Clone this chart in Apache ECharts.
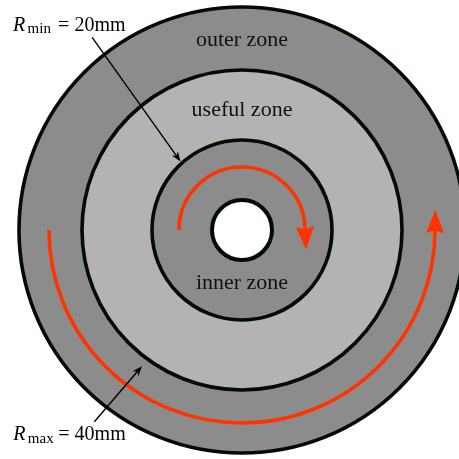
<!DOCTYPE html>
<html>
<head>
<meta charset="utf-8">
<script src="https://cdn.jsdelivr.net/npm/echarts@6/dist/echarts.min.js"></script>
<style>html,body{margin:0;padding:0;background:#fff}#c{width:459px;height:459px}</style>
</head>
<body>
<div id="c"></div>
<script>
// ---- data ----
const zoneNames = ['outer zone', 'useful zone', 'inner zone', ''];
const zoneRadii = [223, 160, 90, 30];            // boundary radius of each zone (outer edge)
const spinRadii = [63, 193];                     // rotation arrows
const spinStartDeg = [180, 180];
const spinEndDeg = [3, 359.1];
const annotSymbols = ['min', 'max'];
const annotValues = [20, 40];
const annotUnit = 'mm';
const annotAngleFrom = [127.9, 232.4];
const annotRadiusFrom = [244, 242];
const annotAngleTo = [131.9, 233.7];
const annotRadiusTo = [92, 169];

// ---- styles / layout ----
const zoneFills = ['#8c8c8c', '#b3b3b3', '#8c8c8c', '#ffffff'];
const borderColor = '#000d00';
const red = '#ff3300';
const labelY = [189.5, 119.5, -53.5];
const serif = '"Liberation Serif", "Times New Roman", serif';

const chart = echarts.init(document.getElementById('c'), null, {renderer: 'canvas'});
const rad = d => d * Math.PI / 180;

function polar(api, r, deg) {
  return api.coord([r * Math.cos(rad(deg)), r * Math.sin(rad(deg))]);
}

function head(tip, dir, L, W, notch, fill) {
  const nx = -dir[1], ny = dir[0];
  const bx = tip[0] - L * dir[0], by = tip[1] - L * dir[1];
  return {
    type: 'polygon',
    shape: {points: [
      tip,
      [bx + nx * W / 2, by + ny * W / 2],
      [bx + notch * dir[0], by + notch * dir[1]],
      [bx - nx * W / 2, by - ny * W / 2]
    ]},
    style: {fill: fill, stroke: null}
  };
}

const option = {
  animation: false,
  backgroundColor: '#ffffff',
  grid: {left: 0, right: 0, top: 0, bottom: 0},
  xAxis: {type: 'value', min: -242, max: 217, show: false},
  yAxis: {type: 'value', min: -229, max: 230, show: false},
  series: [
    {
      type: 'custom', clip: false, z: 1,
      data: zoneRadii.map((r, i) => [r, i]),
      renderItem: function (params, api) {
        const i = params.dataIndex;
        const c = api.coord([0, 0]);
        const rp = api.size([api.value(0), 0])[0];
        return {
          type: 'circle',
          shape: {cx: c[0], cy: c[1], r: rp},
          style: {fill: zoneFills[i], stroke: borderColor, lineWidth: i === 3 ? 4 : 3.6}
        };
      }
    },
    {
      type: 'custom', clip: false, z: 2,
      data: zoneNames.map((n, i) => [0, i]),
      renderItem: function (params, api) {
        const i = params.dataIndex;
        if (!zoneNames[i]) return null;
        const p = api.coord([0, labelY[i]]);
        return {
          type: 'text', x: p[0], y: p[1],
          style: {text: zoneNames[i], fill: '#111', fontSize: 22, fontFamily: serif,
                  align: 'center', verticalAlign: 'middle'}
        };
      }
    },
    {
      type: 'custom', clip: false, z: 3,
      data: spinRadii.map((r, i) => [r, spinStartDeg[i], spinEndDeg[i]]),
      renderItem: function (params, api) {
        const r = api.value(0), a0 = api.value(1), a1 = api.value(2);
        const c = api.coord([0, 0]);
        const rp = api.size([r, 0])[0];
        const s = Math.sign(a1 - a0);
        const ext = (3 / rp) * 180 / Math.PI;
        const a1e = a1 + s * ext;
        const e = polar(api, r, a1);
        const d = [-s * Math.sin(rad(a1)), -s * Math.cos(rad(a1))];
        const L = 23, W = 18;
        const tip = [e[0] + L * d[0], e[1] + L * d[1]];
        return {
          type: 'group',
          children: [
            {
              type: 'arc',
              shape: {cx: c[0], cy: c[1], r: rp, startAngle: -rad(a0), endAngle: -rad(a1e), clockwise: s < 0},
              style: {fill: null, stroke: red, lineWidth: 3.6}
            },
            head(tip, d, L, W, 2.5, red)
          ]
        };
      }
    },
    {
      type: 'custom', clip: false, z: 4,
      data: annotValues.map((v, i) => [v, i]),
      renderItem: function (params, api) {
        const i = params.dataIndex;
        const p0 = polar(api, annotRadiusFrom[i], annotAngleFrom[i]);
        const p1 = polar(api, annotRadiusTo[i], annotAngleTo[i]);
        const dx = p1[0] - p0[0], dy = p1[1] - p0[1];
        const len = Math.hypot(dx, dy);
        const d = [dx / len, dy / len];
        const L = 10;
        const lineEnd = [p1[0] - (L - 3) * d[0], p1[1] - (L - 3) * d[1]];
        const top = i === 0;
        const tx = p0[0] + (top ? -79 : -81);
        const base = p0[1] + (top ? -5 : 20);
        const mid = base - 0.3375 * 20;
        return {
          type: 'group',
          children: [
            {type: 'line', shape: {x1: p0[0], y1: p0[1], x2: lineEnd[0], y2: lineEnd[1]},
             style: {stroke: '#000', lineWidth: 1.4}},
            head(p1, d, L, 7.5, 3, '#000'),
            {type: 'text', x: tx, y: mid,
             style: {text: 'R', fill: '#000', fontSize: 20, fontStyle: 'italic', fontFamily: serif,
                     align: 'left', verticalAlign: 'middle'}},
            {type: 'text', x: tx + 14.5, y: base + 2 - 0.3375 * 15,
             style: {text: annotSymbols[i], fill: '#000', fontSize: 15, fontFamily: serif,
                     align: 'left', verticalAlign: 'middle'}},
            {type: 'text', x: tx + 45, y: mid,
             style: {text: '= ' + api.value(0) + annotUnit, fill: '#000', fontSize: 20, fontFamily: serif,
                     align: 'left', verticalAlign: 'middle'}}
          ]
        };
      }
    }
  ]
};
chart.setOption(option);
</script>
</body>
</html>
